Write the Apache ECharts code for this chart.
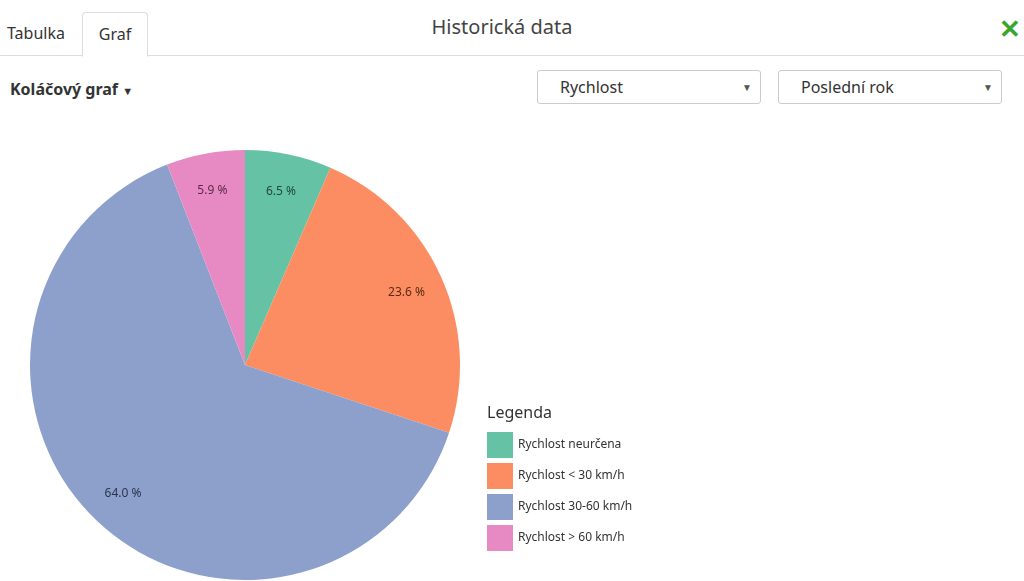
<!DOCTYPE html>
<html>
<head>
<meta charset="utf-8">
<script src="https://cdn.jsdelivr.net/npm/echarts@6/dist/echarts.min.js"></script>
<style>
  body { margin: 0; width: 1024px; height: 581px; overflow: hidden; background: #fff; font-family: "Noto Sans", "Open Sans", sans-serif; color: #333; position: relative; }
  .tabline { position: absolute; left: 0; top: 55px; width: 1024px; height: 1px; background: #ddd; }
  .tab1 { position: absolute; left: 7px; top: 22px; font-size: 16px; }
  .tab2 { position: absolute; left: 82px; top: 12px; width: 64px; height: 43px; border: 1px solid #ddd; border-bottom: 1px solid #fff; border-radius: 4px 4px 0 0; background: #fff; font-size: 16px; text-align: center; line-height: 42px; z-index: 2; }
  .title { position: absolute; left: 0; width: 1004px; top: 13px; text-align: center; font-size: 20px; color: #444; }
  .close { position: absolute; left: 999px; top: 10px; font-size: 26px; color: #3aa52b; font-weight: bold; }
  .kind { position: absolute; left: 10px; top: 78px; font-size: 16px; font-weight: bold; }
  .kind span { font-size: 11px; }
  .sel { position: absolute; top: 70px; height: 32px; border: 1px solid #ccc; border-radius: 3px; font-size: 16px; line-height: 32px; }
  .sel .t { position: absolute; left: 22px; }
  .sel .a { position: absolute; right: 8px; font-size: 10px; color: #555; }
  #chart { position: absolute; left: 0; top: 0; width: 1024px; height: 581px; }
</style>
</head>
<body>
<div class="tabline"></div>
<div class="tab1">Tabulka</div>
<div class="tab2">Graf</div>
<div class="title">Historická data</div>
<div class="close">✕</div>
<div class="kind">Koláčový graf <span>▼</span></div>
<div class="sel" style="left:537px;width:222px"><span class="t">Rychlost</span><span class="a">▼</span></div>
<div class="sel" style="left:778px;width:222px"><span class="t">Poslední rok</span><span class="a">▼</span></div>
<div id="chart"></div>
<script>
// data
var categories = ['Rychlost neurčena', 'Rychlost < 30 km/h', 'Rychlost 30-60 km/h', 'Rychlost > 60 km/h'];
var values = [6.5, 23.6, 64.0, 5.9];
var colors = ['#66c2a5', '#fc8d62', '#8da0cb', '#e78ac3'];
var labelColors = ['#1f4a3d', '#5a2a14', '#2a3550', '#5a2a48'];

var chart = echarts.init(document.getElementById('chart'));

var pieData = [];
var labelData = [];
for (var i = 0; i < categories.length; i++) {
    pieData.push({ name: categories[i], value: values[i], itemStyle: { color: colors[i] } });
    labelData.push({ name: categories[i], value: values[i], label: { color: labelColors[i] } });
}

var option = {
    animation: false,
    title: {
        text: 'Legenda',
        left: 482,
        top: 400,
        textStyle: { fontFamily: 'Noto Sans', fontSize: 16, fontWeight: 'normal', color: '#333' }
    },
    legend: {
        data: categories,
        orient: 'vertical',
        left: 487,
        top: 432,
        icon: 'rect',
        itemWidth: 26,
        itemHeight: 26,
        itemGap: 5,
        padding: 0,
        selectedMode: false,
        textStyle: { fontFamily: 'Noto Sans', fontSize: 12, color: '#333' }
    },
    series: [
        {
            type: 'pie',
            center: [245, 365],
            radius: [0, 215],
            startAngle: 90,
            clockwise: true,
            silent: true,
            data: pieData,
            label: { show: false },
            labelLine: { show: false }
        },
        {
            // transparent ring only to place the percentage labels
            type: 'pie',
            center: [245, 365],
            radius: [133, 215],
            startAngle: 90,
            clockwise: true,
            silent: true,
            legendHoverLink: false,
            data: labelData,
            itemStyle: { color: 'rgba(0,0,0,0)' },
            label: {
                show: true,
                position: 'inside',
                fontFamily: 'Noto Sans',
                fontSize: 12,
                formatter: function (p) { return p.value.toFixed(1) + ' %'; }
            },
            labelLine: { show: false }
        }
    ]
};

chart.setOption(option);
</script>
</body>
</html>
